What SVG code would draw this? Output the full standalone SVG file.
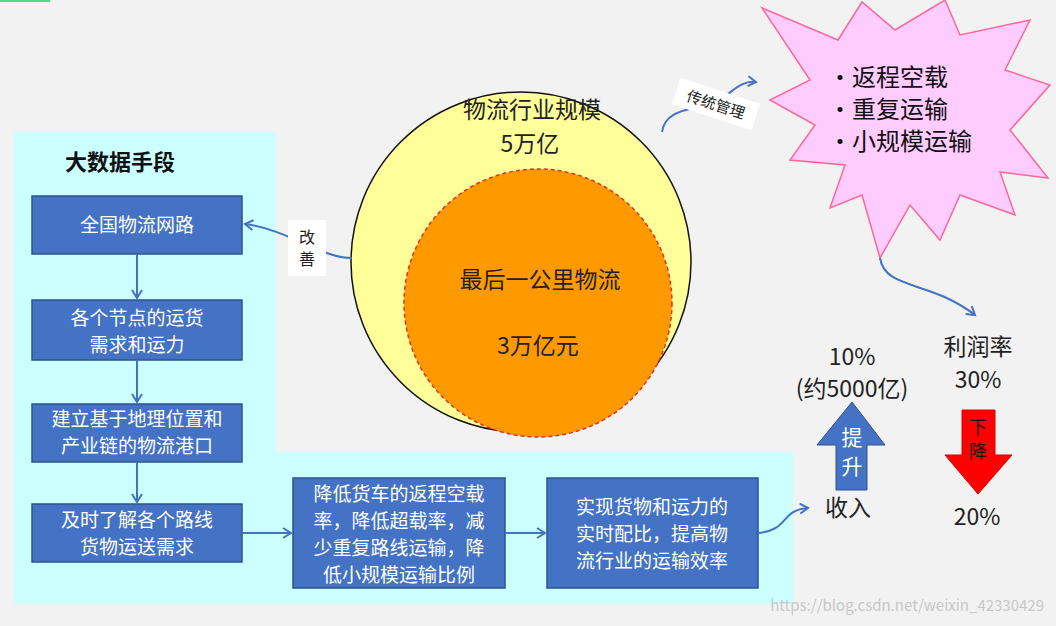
<svg xmlns="http://www.w3.org/2000/svg" width="1056" height="626" viewBox="0 0 1056 626">
<style>
text{font-family:"Noto Sans CJK SC","Noto Sans",sans-serif}
.b{fill:#4472c4;stroke:#2f528f;stroke-width:1.5}
.bt{fill:#fff;font-size:19px;text-anchor:middle}
.c{fill:none;stroke:#4472c4;stroke-width:2;marker-end:url(#a)}
.k{fill:#222;text-anchor:middle}
</style>
<defs><marker id="a" markerWidth="12" markerHeight="12" refX="9" refY="6" orient="auto" markerUnits="userSpaceOnUse"><path d="M1,1 L9,6 L1,11" fill="none" stroke="#4472c4" stroke-width="2"/></marker></defs>
<rect width="1056" height="626" fill="#f2f2f2"/>
<rect x="0" y="0" width="50" height="2" fill="#4cd98c"/>
<path d="M14,132 H276 V452 H793 V604 H14 Z" fill="#ccffff"/>
<text x="120" y="170" font-size="22" font-weight="bold" text-anchor="middle" fill="#111">大数据手段</text>
<g id="n1"><rect class="b" x="32" y="196" width="210" height="58"/><text class="bt" x="137" y="232">全国物流网路</text></g>
<g id="n2"><rect class="b" x="32" y="300" width="210" height="60"/><text class="bt" x="137" y="325">各个节点的运货</text><text class="bt" x="137" y="352">需求和运力</text></g>
<g id="n3"><rect class="b" x="32" y="404" width="210" height="58"/><text class="bt" x="137" y="426">建立基于地理位置和</text><text class="bt" x="137" y="453">产业链的物流港口</text></g>
<g id="n4"><rect class="b" x="32" y="504" width="210" height="58"/><text class="bt" x="137" y="527">及时了解各个路线</text><text class="bt" x="137" y="554">货物运送需求</text></g>
<g id="n5"><rect class="b" x="293" y="478" width="212" height="110"/><text class="bt" x="399" y="501">降低货车的返程空载</text><text class="bt" x="399" y="528">率，降低超载率，减</text><text class="bt" x="399" y="555">少重复路线运输，降</text><text class="bt" x="399" y="582">低小规模运输比例</text></g>
<g id="n6"><rect class="b" x="547" y="478" width="211" height="110"/><text class="bt" x="652" y="514">实现货物和运力的</text><text class="bt" x="652" y="541">实时配比，提高物</text><text class="bt" x="652" y="568">流行业的运输效率</text></g>
<g id="circles">
<circle cx="521" cy="262" r="170" fill="#ffff99" stroke="#111" stroke-width="1.5"/>
<circle cx="538" cy="303" r="134" fill="#ff9900" stroke="#e03030" stroke-width="1.5" stroke-dasharray="4 3"/>
<text class="k" x="532" y="118" font-size="23">物流行业规模</text>
<text class="k" x="530" y="152" font-size="23">5万亿</text>
<text class="k" x="540" y="288" font-size="23">最后一公里物流</text>
<text class="k" x="538" y="354" font-size="23">3万亿元</text>
</g>
<g id="star">
<polygon points="762,8 838,40 862,2 895,30 945,0 960,35 1030,20 1005,70 1050,85 1010,130 1048,178 1000,172 1015,215 960,195 940,240 910,205 880,258 862,195 830,208 845,165 790,160 815,125 770,100 810,80" fill="#ffccff" stroke="#ff6699" stroke-width="1.5"/>
<text x="828" y="86" font-size="24" fill="#111">•返程空载</text>
<text x="828" y="118" font-size="24" fill="#111">•重复运输</text>
<text x="828" y="150" font-size="24" fill="#111">•小规模运输</text>
</g>
<g id="connectors">
<path class="c" d="M137,254 V298"/>
<path class="c" d="M137,360 V402"/>
<path class="c" d="M137,462 V502"/>
<path class="c" d="M242,533 H291"/>
<path class="c" d="M505,533 H545"/>
<path class="c" d="M758,533 C790,530 780,510 808,508"/>
<path class="c" d="M352,258 C320,258 290,230 245,224"/>
<path class="c" d="M662,132 C665,110 690,110 705,105 C730,100 735,80 756,82"/>
<path class="c" d="M880,258 C885,290 930,280 975,315"/>
</g>
<g id="lbl1"><rect x="288" y="220" width="38" height="56" fill="#fff"/><text class="k" x="307" y="243" font-size="16">改</text><text class="k" x="307" y="265" font-size="16">善</text></g>
<g id="lbl2" transform="rotate(18 716 104)"><rect x="674" y="90" width="84" height="28" fill="#fff"/><text class="k" x="716" y="110" font-size="15">传统管理</text></g>
<g id="right">
<text class="k" x="852" y="365" font-size="23">10%</text>
<text class="k" x="852" y="397" font-size="23">(约5000亿)</text>
<path d="M852,402 L885,445 L867,445 L867,490 L836,490 L836,445 L817,445 Z" fill="#4472c4" stroke="#2f528f"/>
<text x="852" y="445" font-size="21" fill="#fff" text-anchor="middle">提</text>
<text x="852" y="474" font-size="21" fill="#fff" text-anchor="middle">升</text>
<text class="k" x="848" y="516" font-size="23">收入</text>
<text class="k" x="978" y="355" font-size="23">利润率</text>
<text class="k" x="978" y="388" font-size="23">30%</text>
<path d="M962,410 L995,410 L995,455 L1012,455 L978,494 L945,455 L962,455 Z" fill="#ff0000" stroke="#e00000"/>
<text x="978" y="434" font-size="18" fill="#111" text-anchor="middle">下</text>
<text x="978" y="458" font-size="18" fill="#111" text-anchor="middle">降</text>
<text class="k" x="977" y="525" font-size="23">20%</text>
</g>
<text x="1044" y="611" font-size="15" fill="#c8c8c8" text-anchor="end" font-family="Liberation Mono,monospace">https://blog.csdn.net/weixin_42330429</text>
</svg>
